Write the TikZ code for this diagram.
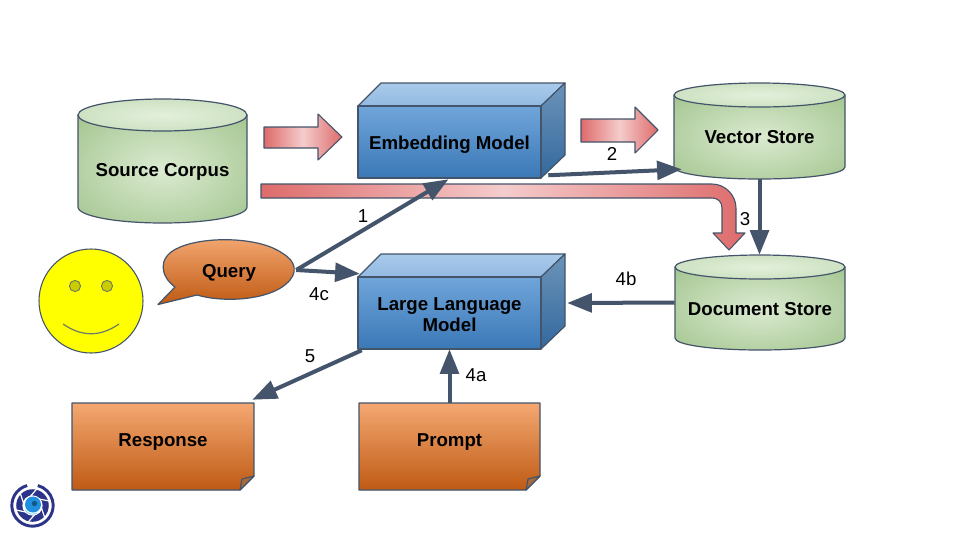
\documentclass[tikz,border=0pt]{standalone}
\usepackage{fontspec}
\setmainfont{Liberation Sans}
\usetikzlibrary{arrows.meta,calc}
\definecolor{edgec}{HTML}{44546A}
\definecolor{smilec}{HTML}{6B7A6B}
\definecolor{faceY}{RGB}{255,255,0}
\definecolor{eyeY}{RGB}{204,204,0}
\pgfdeclareradialshading{cylbody}{\pgfpoint{0bp}{0bp}}{rgb(0bp)=(.86,.92,.82);rgb(39bp)=(.62,.76,.54);rgb(50bp)=(.62,.76,.54)}
\pgfdeclareradialshading{cyltop}{\pgfpoint{0bp}{0bp}}{rgb(0bp)=(.89,.94,.86);rgb(37bp)=(.77,.86,.72);rgb(50bp)=(.77,.86,.72)}
\pgfdeclarehorizontalshading{redshade}{100bp}{rgb(0bp)=(.87,.42,.42);rgb(25bp)=(.87,.42,.42);rgb(50bp)=(.96,.80,.80);rgb(75bp)=(.87,.42,.42);rgb(100bp)=(.87,.42,.42)}
\definecolor{frontT}{HTML}{70A5DA}
\definecolor{frontB}{HTML}{3A78B6}
\definecolor{topT}{HTML}{A9CAEA}
\definecolor{topB}{HTML}{93BAE2}
\definecolor{sideT}{HTML}{6C93B8}
\definecolor{sideB}{HTML}{33699E}
\definecolor{orT}{HTML}{F4A872}
\definecolor{orB}{HTML}{BF5A14}
\definecolor{foldc}{HTML}{A86A3C}
\definecolor{logoN}{HTML}{2B3488}
\definecolor{logoB}{HTML}{1F8FE0}
\tikzset{
  x=0.75pt,y=-0.75pt,
  lbl/.style={font=\fontsize{14}{15.75}\selectfont\bfseries,align=center,inner sep=0pt,text=black},
  numlbl/.style={font=\fontsize{14}{16}\selectfont,inner sep=0pt,text=black},
  holder/.style 2 args={rectangle,inner sep=0pt,minimum width=#1*0.75pt,minimum height=#2*0.75pt},
  outl/.style={draw=edgec,line width=0.9pt,line join=round},
  cylb/.style={outl,shading=cylbody},
  cylt/.style={outl,shading=cyltop},
  front/.style={outl,top color=frontT,bottom color=frontB},
  topf/.style={outl,top color=topT,bottom color=topB},
  sidef/.style={outl,top color=sideT,bottom color=sideB},
  orange/.style={outl,top color=orT,bottom color=orB},
  redarrow/.style={outl,line width=0.8pt,shading=redshade},
  conn/.style={draw=edgec,line width=3pt,-{Triangle[length=18.5pt,width=14pt]}},
}
\begin{document}
\begin{tikzpicture}
\useasboundingbox (0,0) rectangle (960,540);
\fill[white] (0,0) rectangle (960,540);

% --- block arrows
\path[redarrow] (264,127) -- (318,127) -- (318,114) -- (342,137) -- (318,160) -- (318,148) -- (264,148) -- cycle;
\path[redarrow] (581,119) -- (635,119) -- (635,107) -- (658,130) -- (635,153) -- (635,142) -- (581,142) -- cycle;

% --- cylinders
\path[cylb] (78,115) -- (78,207) .. controls (78,216) and (116,223) .. (162.5,223) .. controls (209,223) and (247,216) .. (247,207) -- (247,115) -- cycle;
\path[cylt] (162.5,115) ellipse[x radius=84.5,y radius=16];
\node[holder={169}{124}] (source) at (162.5,161) {};
\node[lbl] at (162.5,172) {Source Corpus};

\path[cylb] (674,95) -- (674,167) .. controls (674,174) and (712,179) .. (759.5,179) .. controls (807,179) and (845,174) .. (845,167) -- (845,95) -- cycle;
\path[cylt] (759.5,95) ellipse[x radius=85.5,y radius=12];
\node[holder={171}{96}] (vec) at (759.5,131) {};
\node[lbl] at (759.5,137) {Vector Store};

\path[cylb] (675,267) -- (675,338) .. controls (675,345) and (713,350) .. (760,350) .. controls (807,350) and (845,345) .. (845,338) -- (845,267) -- cycle;
\path[cylt] (760,267) ellipse[x radius=85,y radius=12];
\node[holder={170}{95}] (doc) at (760,302.5) {};
\node[lbl] at (760,309) {Document Store};

% --- long bent block arrow
\path[redarrow] (261,184) -- (712,184) .. controls (725,184) and (736,195) .. (736,208) -- (736,233) -- (745,233) -- (729,250) -- (713,233) -- (722,233) -- (722,208) .. controls (722,202) and (718,198) .. (712,198) -- (261,198) -- cycle;

% --- boxes
\path[topf] (358,106) -- (381,83) -- (565,83) -- (541,106) -- cycle;
\path[sidef] (541,106) -- (565,83) -- (565,155) -- (541,178) -- cycle;
\path[front] (358,106) rectangle (541,178);
\node[holder={183}{72}] (emb) at (449.5,142) {};
\node[lbl] at (449.5,145) {Embedding Model};

\path[topf] (358,277) -- (381,254) -- (565,254) -- (541,277) -- cycle;
\path[sidef] (541,277) -- (565,254) -- (565,326) -- (541,349) -- cycle;
\path[front] (358,277) rectangle (541,349);
\node[holder={183}{72}] (llm) at (449.5,313) {};
\node[lbl] at (449.5,314.5) {Large Language\\Model};

% --- notes
\path[orange] (72,403) -- (254,403) -- (254,476) -- (240,490) -- (72,490) -- cycle;
\path[outl,fill=foldc] (254,476) -- (242,479) -- (240,490) -- cycle;
\node[holder={182}{87}] (resp) at (163,446.5) {};
\node[lbl] at (163,442) {Response};

\path[orange] (359,403) -- (540,403) -- (540,476) -- (526,490) -- (359,490) -- cycle;
\path[outl,fill=foldc] (540,476) -- (528,479) -- (526,490) -- cycle;
\node[holder={181}{87}] (prompt) at (449.5,446.5) {};
\node[lbl] at (449.5,442) {Prompt};

% --- smiley
\path[draw=edgec,line width=0.8pt,fill=faceY] (91,301) circle[radius=39pt];
\path[draw=smilec,line width=0.7pt,fill=eyeY] (75,286) circle[radius=4.2pt];
\path[draw=smilec,line width=0.7pt,fill=eyeY] (107,286) circle[radius=4.2pt];
\draw[smilec,line width=0.9pt] (63,324) .. controls (82,337) and (100,337) .. (119,324);
\node[circle,minimum size=78pt,inner sep=0pt] (face) at (91,301) {};

% --- query bubble
\path[orange] (175,287) .. controls (160,276) and (158,258) .. (176,249)
  .. controls (200,236) and (258,236) .. (282,253)
  .. controls (296,261) and (299,273) .. (286,284)
  .. controls (268,300) and (224,303) .. (197,295)
  -- (158,304.5) -- cycle;
\node[holder={134}{60}] (query) at (229,270) {};
\node[lbl] at (229,273) {Query};

% --- connectors
\draw[conn] (query.east) -- ([shift={(-1,1)}]emb.south);
\draw[conn] (query.east) -- ([shift={(2,-3)}]llm.north west);
\draw[conn] ([shift={(7,-3)}]emb.south east) -- ([shift={(8,-10)}]vec.south west);
\draw[conn] (vec.south) -- (vec.south|-doc.north);
\draw[conn] (doc.west) -- ([shift={(26,-10)}]llm.east);
\draw[conn] (prompt.north) -- (prompt.north|-llm.south);
\draw[conn] ([shift={(4,1)}]llm.south west) -- ([shift={(-2,-3)}]resp.north east);

% --- labels
\node[numlbl] (n1) at (363,216) {1};
\node[numlbl] (n2) at (612,154) {2};
\node[numlbl] (n3) at (745,219) {3};
\node[numlbl] (n4a) at (476,375) {4a};
\node[numlbl] (n4b) at (626,279) {4b};
\node[numlbl] (n4c) at (319,294) {4c};
\node[numlbl] (n5) at (310,356) {5};

% --- logo
\begin{scope}[shift={(32.5,505.5)}]
  \draw[logoN,line width=2.2pt] (105:15.5pt) arc[start angle=105,end angle=435,radius=15.5pt];
  \fill[logoN] (0,0) circle[radius=12.2pt];
  \foreach \a in {15,75,135,195,255,315}{
    \draw[white,line width=0.9pt] (\a:13pt) -- (\a+80:6pt);
  }
  \fill[white] (0,0) circle[radius=7.6pt];
  \fill[logoB] (0.5,-1) circle[radius=6pt];
  \fill[logoB!60!black] (2,-2) circle[radius=2pt];
  \draw[white!55!cyan,line width=0.7pt] (210:6.5pt) arc[start angle=210,end angle=300,radius=6.5pt];
\end{scope}
\end{tikzpicture}
\end{document}
